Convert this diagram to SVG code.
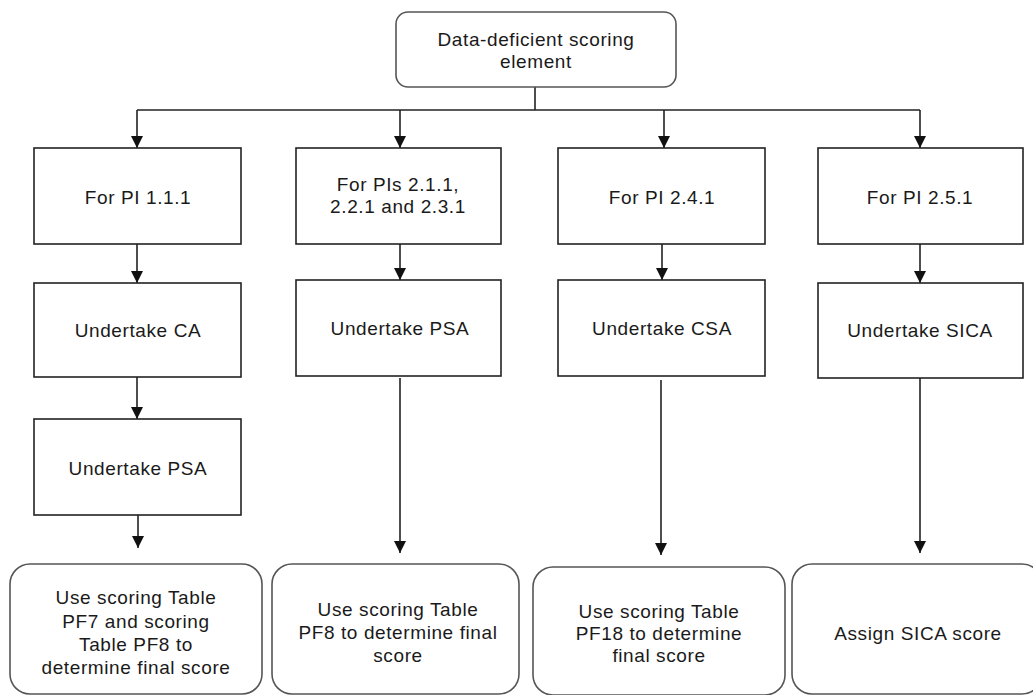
<svg xmlns="http://www.w3.org/2000/svg" width="1033" height="695" viewBox="0 0 1033 695">
<style>
.box{fill:#fff;stroke:#222;stroke-width:1.6}
.rbox{fill:#fff;stroke:#555;stroke-width:1.6}
.t{font-family:"Liberation Sans",Arial,sans-serif;font-size:19px;letter-spacing:0.6px;fill:#1a1a1a;text-anchor:middle}
.c{fill:none;stroke:#222;stroke-width:1.6}
</style>
<defs>
<marker id="ah" viewBox="0 0 12 12" refX="12" refY="6" markerWidth="12" markerHeight="12" markerUnits="userSpaceOnUse" orient="auto">
<path d="M0,0 L12,6 L0,12 z" fill="#111"/>
</marker>
</defs>
<rect width="1033" height="695" fill="#fff"/>
<g id="connectors">
<path class="c" d="M535,87 V110"/>
<path class="c" d="M137,110 H920"/>
<path class="c" d="M137,110 V148" marker-end="url(#ah)"/>
<path class="c" d="M400,110 V148" marker-end="url(#ah)"/>
<path class="c" d="M664,110 V148" marker-end="url(#ah)"/>
<path class="c" d="M920,110 V148" marker-end="url(#ah)"/>
<path class="c" d="M137,244 V283" marker-end="url(#ah)"/>
<path class="c" d="M400,244 V280" marker-end="url(#ah)"/>
<path class="c" d="M662,244 V280" marker-end="url(#ah)"/>
<path class="c" d="M920,244 V283" marker-end="url(#ah)"/>
<path class="c" d="M137,377 V419" marker-end="url(#ah)"/>
<path class="c" d="M138,515 V548" marker-end="url(#ah)"/>
<path class="c" d="M400,378 V553" marker-end="url(#ah)"/>
<path class="c" d="M661,380 V555" marker-end="url(#ah)"/>
<path class="c" d="M920,378 V553" marker-end="url(#ah)"/>
</g>
<g id="top">
<rect class="rbox" x="396" y="12" width="280" height="75" rx="12"/>
<text class="t" x="536" y="46">Data-deficient scoring</text>
<text class="t" x="536" y="68">element</text>
</g>
<g id="pi111">
<rect class="box" x="34" y="148" width="207" height="96"/>
<text class="t" x="138" y="204">For PI 1.1.1</text>
</g>
<g id="pi2x">
<rect class="box" x="296" y="148" width="205" height="96"/>
<text class="t" x="398" y="191">For PIs 2.1.1,</text>
<text class="t" x="398" y="213">2.2.1 and 2.3.1</text>
</g>
<g id="pi241">
<rect class="box" x="558" y="148" width="207" height="96"/>
<text class="t" x="662" y="204">For PI 2.4.1</text>
</g>
<g id="pi251">
<rect class="box" x="818" y="148" width="205" height="96"/>
<text class="t" x="920" y="204">For PI 2.5.1</text>
</g>
<g id="ca">
<rect class="box" x="34" y="283" width="207" height="94"/>
<text class="t" x="138" y="337">Undertake CA</text>
</g>
<g id="psa2">
<rect class="box" x="296" y="280" width="205" height="96"/>
<text class="t" x="400" y="335">Undertake PSA</text>
</g>
<g id="csa">
<rect class="box" x="558" y="280" width="207" height="96"/>
<text class="t" x="662" y="335">Undertake CSA</text>
</g>
<g id="sica">
<rect class="box" x="818" y="283" width="205" height="95"/>
<text class="t" x="920" y="337">Undertake SICA</text>
</g>
<g id="psa1">
<rect class="box" x="34" y="419" width="207" height="96"/>
<text class="t" x="138" y="475">Undertake PSA</text>
</g>
<g id="final1">
<rect class="rbox" x="10" y="564" width="252" height="130" rx="20"/>
<text class="t" x="136" y="604">Use scoring Table</text>
<text class="t" x="136" y="628">PF7 and scoring</text>
<text class="t" x="136" y="651">Table PF8 to</text>
<text class="t" x="136" y="674">determine final score</text>
</g>
<g id="final2">
<rect class="rbox" x="272" y="564" width="247" height="130" rx="20"/>
<text class="t" x="398" y="616">Use scoring Table</text>
<text class="t" x="398" y="639">PF8 to determine final</text>
<text class="t" x="398" y="662">score</text>
</g>
<g id="final3">
<rect class="rbox" x="533" y="567" width="252" height="128" rx="20"/>
<text class="t" x="659" y="618">Use scoring Table</text>
<text class="t" x="659" y="640">PF18 to determine</text>
<text class="t" x="659" y="662">final score</text>
</g>
<g id="final4">
<rect class="rbox" x="792" y="564" width="250" height="130" rx="20"/>
<text class="t" x="918" y="640">Assign SICA score</text>
</g>
</svg>
